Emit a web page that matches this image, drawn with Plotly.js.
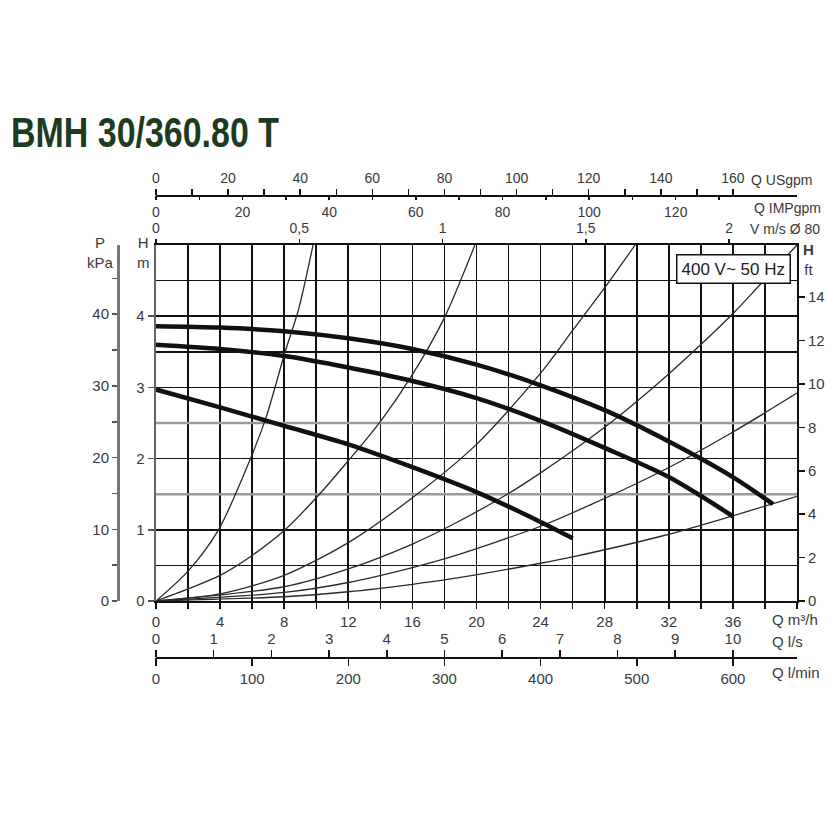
<!DOCTYPE html>
<html>
<head>
<meta charset="utf-8">
<script src="https://cdn.plot.ly/plotly-3.0.1.min.js"></script>
<style>
html,body{margin:0;padding:0;background:#fff;}
#chart{width:840px;height:840px;}
</style>
</head>
<body>
<div id="chart"></div>
<script>
// ---------- data ----------
// pump curves (H in m versus Q in m³/h)
const pump1Q = [0, 4, 8, 12, 16, 20, 24, 28, 32, 36, 38.5];
const pump1H = [3.86, 3.84, 3.79, 3.69, 3.54, 3.32, 3.03, 2.68, 2.24, 1.74, 1.36];
const pump2Q = [0, 4, 8, 12, 16, 20, 24, 28, 32, 36];
const pump2H = [3.60, 3.54, 3.44, 3.28, 3.09, 2.85, 2.53, 2.15, 1.74, 1.19];
const pump3Q = [0, 4, 8, 12, 16, 20, 24, 26];
const pump3H = [2.97, 2.72, 2.46, 2.20, 1.88, 1.53, 1.11, 0.88];

// system (installation) curves
const sys1Q = [0, 2, 3.9, 5.9, 6.9, 8.06, 8.9, 9.8];
const sys1H = [0, 0.42, 1.0, 2.0, 2.6, 3.5, 4.1, 5.0];
const sys2Q = [0, 2, 4, 6, 8, 10, 12, 14, 16, 18, 19.9];
const sys2H = [0, 0.17, 0.36, 0.64, 0.99, 1.45, 1.97, 2.52, 3.18, 3.98, 5.0];
const sys3Q = [0, 4, 8, 12, 16, 20, 24, 26, 28, 29.9];
const sys3H = [0, 0.10, 0.36, 0.82, 1.45, 2.20, 3.20, 3.80, 4.40, 5.0];
const sys4Q = [0, 8, 12, 16, 18.4, 22, 24, 26.5, 28.8, 31.3, 33.8, 36.1, 37.6, 40];
const sys4H = [0, 0.20, 0.45, 0.80, 1.06, 1.51, 1.80, 2.19, 2.58, 3.05, 3.56, 4.06, 4.42, 5.0];
const sys5Q = [0, 8, 12, 16, 18.4, 24, 27.1, 31.7, 35.9, 40];
const sys5H = [0, 0.12, 0.26, 0.47, 0.62, 1.05, 1.35, 1.84, 2.36, 2.92];
const sys6Q = [0, 8, 12, 16, 18.4, 24, 26, 31.7, 35.9, 40];
const sys6H = [0, 0.06, 0.13, 0.235, 0.31, 0.53, 0.62, 0.92, 1.19, 1.47];

// tick labels
const qTicks = [0, 4, 8, 12, 16, 20, 24, 28, 32, 36];
const hTicks = [0, 1, 2, 3, 4];
const kpaTicks = [0, 10, 20, 30, 40];
const ftTicks = [0, 2, 4, 6, 8, 10, 12, 14];
const usgpmTicks = [0, 20, 40, 60, 80, 100, 120, 140, 160];
const usgpmMinor = [10, 30, 50, 70, 90, 110, 130, 150];
const impTicks = [0, 20, 40, 60, 80, 100, 120];
const impMinor = [10, 30, 50, 70, 90, 110, 130];
const velTicks = [0, 0.5, 1, 1.5, 2];
const velText = ['0', '0,5', '1', '1,5', '2'];
const lsTicks = [0, 1, 2, 3, 4, 5, 6, 7, 8, 9, 10];
const lminTicks = [0, 100, 200, 300, 400, 500, 600];
const grayGridH = [1.5, 2.5];

// scale conversions of the secondary axes
const Q_MAX = 40, H_MAX = 5;
const USGPM_PER_M3H = 4.444;
const IMP_PER_M3H = 3.70;
const MS_PER_M3H = 1 / 17.88;
const LS_PER_M3H = 1 / 3.6;
const LMIN_PER_M3H = 1 / 0.06;
const KPA_PER_M = 9.93;
const FT_PER_M = 3.2808;

// ---------- layout helpers ----------
const ML = 100, MR = 43, MT = 170, MB = 180, W = 840, H = 840;
const PW = W - ML - MR, PH = H - MT - MB;
const px = x => (x - ML) / PW;
const py = y => (H - MB - y) / PH;

const FONT = '"Liberation Sans", Arial, sans-serif';
const TXT = '#3a3a3a';
const tickFont = {family: FONT, size: 15, color: TXT};
const topFont = {family: FONT, size: 14, color: TXT};
const GRID = '#111';

const pumpStyle = {color: '#111', width: 4.5, shape: 'spline', smoothing: 0.8};
const sysStyle = {color: '#2a2a2a', width: 1.3, shape: 'spline', smoothing: 0.8};

const traces = [
  {x: sys1Q, y: sys1H, line: sysStyle},
  {x: sys2Q, y: sys2H, line: sysStyle},
  {x: sys3Q, y: sys3H, line: sysStyle},
  {x: sys4Q, y: sys4H, line: sysStyle},
  {x: sys5Q, y: sys5H, line: sysStyle},
  {x: sys6Q, y: sys6H, line: sysStyle},
  {x: pump3Q, y: pump3H, line: pumpStyle},
  {x: pump2Q, y: pump2H, line: pumpStyle},
  {x: pump1Q, y: pump1H, line: pumpStyle}
].map(t => Object.assign({type: 'scatter', mode: 'lines', xaxis: 'x', yaxis: 'y', hoverinfo: 'skip', showlegend: false}, t));

// invisible anchor traces so that every secondary scale is drawn
const anchor = (xa, ya, xv, yv) => ({type: 'scatter', mode: 'markers', x: [xv], y: [yv], xaxis: xa, yaxis: ya,
  marker: {opacity: 0, size: 1}, hoverinfo: 'skip', showlegend: false});
traces.push(
  anchor('x', 'y2', qTicks[0], kpaTicks[0]),
  anchor('x', 'y3', qTicks[0], ftTicks[0]),
  anchor('x2', 'y', usgpmTicks[0], hTicks[0]),
  anchor('x3', 'y', impTicks[0], hTicks[0]),
  anchor('x4', 'y', velTicks[0], hTicks[0]),
  anchor('x5', 'y', lsTicks[0], hTicks[0]),
  anchor('x6', 'y', lminTicks[0], hTicks[0])
);

const xDomain = [px(156), 1];
const yDomain = [py(601), py(245)];
const topPos = py(195);
const botPos = py(657);

const layout = {
  width: W, height: H,
  margin: {l: ML, r: MR, t: MT, b: MB, pad: 0},
  paper_bgcolor: '#fff', plot_bgcolor: '#fff',
  showlegend: false,
  font: {family: FONT, color: TXT},
  xaxis: {
    domain: xDomain, anchor: 'y', range: [0, Q_MAX], autorange: false,
    tickmode: 'array', tickvals: qTicks, ticks: 'outside', ticklen: 6, tickwidth: 1.5, tickcolor: GRID,
    showgrid: true, gridcolor: GRID, gridwidth: 1.6,
    minor: {tickmode: 'linear', tick0: 0, dtick: 2, ticks: 'outside', ticklen: 6, tickwidth: 1.5, tickcolor: GRID,
            showgrid: true, gridcolor: GRID, gridwidth: 1.6},
    showline: true, linecolor: GRID, linewidth: 2, mirror: true, zeroline: false,
    tickfont: tickFont
  },
  yaxis: {
    domain: yDomain, anchor: 'x', range: [0, H_MAX], autorange: false,
    tickmode: 'array', tickvals: hTicks, ticks: 'outside', ticklen: 6, tickwidth: 1.5, tickcolor: '#555',
    showgrid: true, gridcolor: GRID, gridwidth: 1.6,
    minor: {tickmode: 'linear', tick0: 0, dtick: 0.5, showgrid: true, gridcolor: GRID, gridwidth: 1.6},
    showline: true, linecolor: '#666', linewidth: 2.5, zeroline: false,
    tickfont: tickFont
  },
  yaxis2: {
    overlaying: 'y', anchor: 'free', position: px(118), side: 'left',
    range: [0, H_MAX * KPA_PER_M], autorange: false,
    tickmode: 'array', tickvals: kpaTicks, ticks: 'outside', ticklen: 5, tickwidth: 1.5, tickcolor: '#555',
    minor: {tickmode: 'linear', tick0: 5, dtick: 10, ticks: 'outside', ticklen: 5, tickwidth: 1.5, tickcolor: '#555'},
    showgrid: false, zeroline: false, showline: true, linecolor: '#777', linewidth: 2.5,
    tickfont: tickFont
  },
  yaxis3: {
    overlaying: 'y', anchor: 'x', side: 'right',
    range: [0, H_MAX * FT_PER_M], autorange: false,
    tickmode: 'array', tickvals: ftTicks, ticks: 'outside', ticklen: 6, tickwidth: 1.5, tickcolor: GRID,
    showgrid: false, zeroline: false, showline: true, linecolor: GRID, linewidth: 2,
    tickfont: tickFont
  },
  xaxis2: { // US gpm
    overlaying: 'x', anchor: 'free', position: topPos, side: 'top',
    range: [0, Q_MAX * USGPM_PER_M3H], autorange: false,
    tickmode: 'array', tickvals: usgpmTicks, ticks: 'outside', ticklen: 6, tickwidth: 1.5, tickcolor: GRID,
    minor: {tickmode: 'array', tickvals: usgpmMinor, ticks: 'outside', ticklen: 6, tickwidth: 1.5, tickcolor: GRID},
    showgrid: false, zeroline: false, showline: true, linecolor: GRID, linewidth: 1.5,
    tickfont: topFont
  },
  xaxis3: { // IMP gpm
    overlaying: 'x', anchor: 'free', position: topPos, side: 'bottom',
    range: [0, Q_MAX * IMP_PER_M3H], autorange: false,
    tickmode: 'array', tickvals: impTicks, ticks: 'outside', ticklen: 4, tickwidth: 1.5, tickcolor: GRID,
    minor: {tickmode: 'array', tickvals: impMinor, ticks: 'outside', ticklen: 4, tickwidth: 1.5, tickcolor: GRID},
    showgrid: false, zeroline: false, showline: false,
    tickfont: topFont
  },
  xaxis4: { // velocity
    overlaying: 'x', anchor: 'y', side: 'top',
    range: [0, Q_MAX * MS_PER_M3H], autorange: false,
    tickmode: 'array', tickvals: velTicks, ticktext: velText, ticks: 'outside', ticklen: 5, tickwidth: 1.5, tickcolor: GRID,
    showgrid: false, zeroline: false, showline: false,
    tickfont: topFont
  },
  xaxis5: { // l/s
    overlaying: 'x', anchor: 'free', position: botPos, side: 'top',
    range: [0, Q_MAX * LS_PER_M3H], autorange: false,
    tickmode: 'array', tickvals: lsTicks, ticks: 'outside', ticklen: 7, tickwidth: 1.5, tickcolor: GRID,
    showgrid: false, zeroline: false, showline: true, linecolor: GRID, linewidth: 1.5,
    tickfont: tickFont
  },
  xaxis6: { // l/min
    overlaying: 'x', anchor: 'free', position: botPos, side: 'bottom',
    range: [0, Q_MAX * LMIN_PER_M3H], autorange: false,
    tickmode: 'array', tickvals: lminTicks, ticks: 'outside', ticklen: 8, tickwidth: 1.5, tickcolor: GRID,
    showgrid: false, zeroline: false, showline: false,
    tickfont: tickFont
  },
  shapes: grayGridH.map(v => ({
    type: 'line', xref: 'x', yref: 'y', x0: 0, x1: Q_MAX, y0: v, y1: v,
    layer: 'between', line: {color: '#9a9a9a', width: 2.5}
  })),
  annotations: [
    {text: '<b>BMH 30/360.80 T</b>', x: px(9), y: py(132),
     font: {family: FONT, size: 43, color: '#1d3b21'}},
    {text: '400 V~ 50 Hz', x: px(733), y: py(269), xanchor: 'center',
     bgcolor: '#fff', bordercolor: '#111', borderwidth: 1.5, borderpad: 4,
     font: {family: FONT, size: 17, color: '#222'}},
    {text: 'Q USgpm', x: px(749), y: py(180), font: topFont},
    {text: 'Q IMPgpm', x: px(752), y: py(208), font: topFont},
    {text: 'V m/s Ø 80', x: px(748), y: py(229), font: topFont},
    {text: 'Q m³/h', x: px(770), y: py(619)},
    {text: 'Q l/s', x: px(770), y: py(641)},
    {text: 'Q l/min', x: px(770), y: py(672)},
    {text: 'P<br>kPa', x: px(100), y: py(252), xanchor: 'center'},
    {text: 'H<br>m', x: px(143), y: py(252), xanchor: 'center'},
    {text: '<b>H</b><br>ft', x: px(808), y: py(259), xanchor: 'center'}
  ].map(a => Object.assign({xref: 'paper', yref: 'paper', xanchor: 'left', yanchor: 'middle', showarrow: false,
                            font: {family: FONT, size: 15, color: TXT}}, a))
};

Plotly.newPlot('chart', traces, layout, {staticPlot: true, displayModeBar: false}).then(gd => {
  // the reference title uses a condensed face: narrow the title horizontally
  const texts = gd.querySelectorAll('.annotation-text');
  texts.forEach(t => {
    if (t.textContent.indexOf('BMH') === 0) {
      const bb = t.getBBox();
      const s = 268 / bb.width;
      const x0 = bb.x;
      t.setAttribute('transform', `translate(${x0},0) scale(${s},1) translate(${-x0},0)`);
    }
  });
});
</script>
</body>
</html>
